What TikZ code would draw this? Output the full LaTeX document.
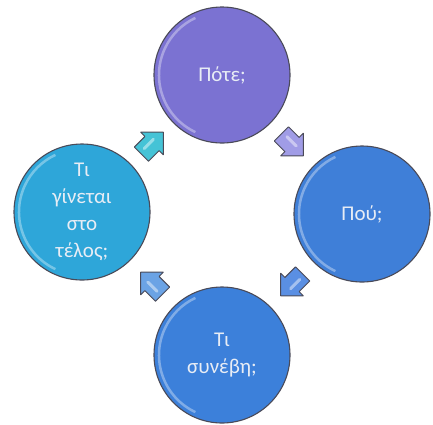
\documentclass[tikz,border=0pt]{standalone}
\usepackage{fontspec}
\setmainfont{Carlito}
\usetikzlibrary{calc}
\definecolor{ringgray}{HTML}{4A4A58}
\definecolor{labelwhite}{HTML}{E8EDF5}
\definecolor{whenfill}{HTML}{7B72D2}
\definecolor{wherefill}{HTML}{3F7FD8}
\definecolor{whatfill}{HTML}{3C80DA}
\definecolor{endfill}{HTML}{2EA6D9}
\definecolor{arrowA}{HTML}{A09CE6}
\definecolor{arrowB}{HTML}{5A8FE3}
\definecolor{arrowC}{HTML}{6BA3E5}
\definecolor{arrowD}{HTML}{45C3D6}
\begin{document}
\begin{tikzpicture}[x=1pt,y=-1pt,
  ball/.style={circle, minimum size=136pt, inner sep=0pt, draw=ringgray,
    line width=1.1pt, text=labelwhite, align=center,
    font=\fontsize{21}{27}\selectfont},
  gloss/.style={white, opacity=.35, line width=2.5pt},
  arrowedge/.style={draw=ringgray, line width=.9pt, line join=round},
  % chunky block arrow pointing along +x, centred on the origin
  blockarrow/.pic={
    \path[pic actions, arrowedge]
      (-15,-10) -- (0,-10) -- (0,-16) -- (16,0) -- (0,16) -- (0,10) -- (-15,10) -- cycle;
    \draw[white, opacity=.45, line width=3pt, line cap=round] (-9,-2) -- (4,-2);
  }]
\useasboundingbox[fill=white] (0,0) rectangle (433,424);

% the four stages of the cycle
\node[ball, fill=whenfill]  (when)  at (222,75)  {Πότε;};
\node[ball, fill=wherefill] (where) at (362,214) {Πού;};
\node[ball, fill=whatfill]  (what)  at (222,355) {Τι\\συνέβη;};
\node[ball, fill=endfill]   (end)   at (82,212)  {Τι\\γίνεται\\στο\\τέλος;};

% glossy rim on the left of each ball
\foreach \b in {when,where,what,end}
  \draw[gloss] ([shift={(115:63)}]\b.center) arc[start angle=115, end angle=245, radius=63];

% block arrows half way between consecutive stages
\pic[fill=arrowA, rotate=-45]  at ($(when)!.5!(where)$) {blockarrow};
\pic[fill=arrowB, rotate=-135] at ($(where)!.5!(what)$) {blockarrow};
\pic[fill=arrowC, rotate=135]  at ($(what)!.5!(end)$)   {blockarrow};
\pic[fill=arrowD, rotate=45]   at ($(end)!.5!(when)$)   {blockarrow};
\end{tikzpicture}
\end{document}
